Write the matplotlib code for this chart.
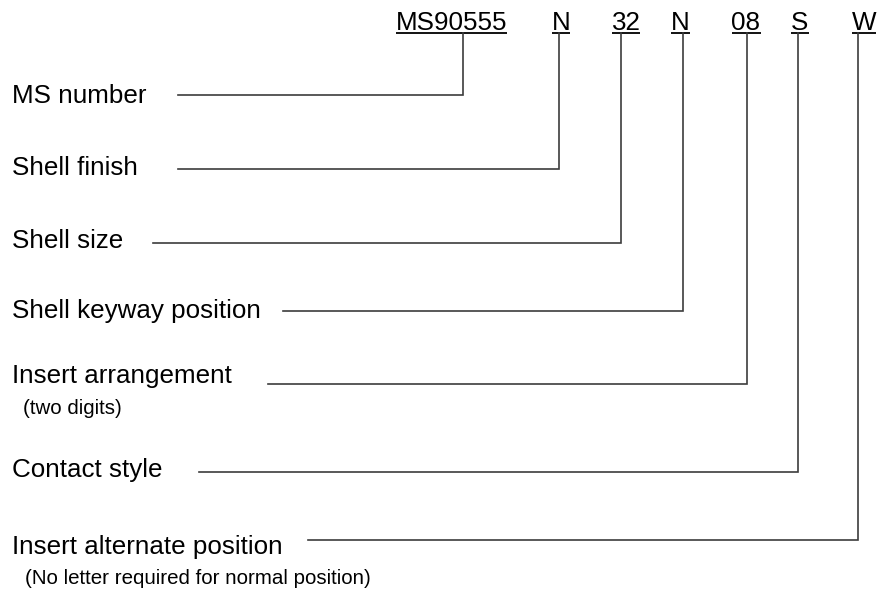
import matplotlib
matplotlib.use('Agg')
import matplotlib.pyplot as plt

plt.rcParams['font.family'] = ['Liberation Sans', 'DejaVu Sans']

# part number codes along the top
codes = ['MS90555', 'N', '32', 'N', '08', 'S', 'W']
code_x = [451.5, 561, 626, 680.5, 746, 800, 864]   # text centres
lead_x = [463, 559, 621, 683, 747, 798, 858]       # where each leader drops down

# descriptions on the left
labels = ['MS number', 'Shell finish', 'Shell size', 'Shell keyway position',
          'Insert arrangement', 'Contact style', 'Insert alternate position']
label_y = [96, 168, 241, 311, 376, 470, 547]
line_y = [95, 169, 243, 311, 384, 472, 540]
line_start = [178, 178, 153, 283, 268, 199, 308]

notes = ['(two digits)', '(No letter required for normal position)']
note_x = [23, 25]
note_y = [409, 578]

big = 26 * 72 / 100    # 26 px text
small = 20.5 * 72 / 100

fig = plt.figure(figsize=(8.8, 5.9), dpi=100)
ax = fig.add_axes([0, 0, 1, 1])
ax.set_xlim(0, 880)
ax.set_ylim(590, 0)
ax.axis('off')

lc = '#3c3c3c'
lw = 1.2
underline_y = 33

fig.canvas.draw()
renderer = fig.canvas.get_renderer()
inv = ax.transData.inverted()

for c, cx in zip(codes, code_x):
    t = ax.text(cx, 30, c, ha='center', va='baseline', fontsize=big, color='black')
    bb = t.get_window_extent(renderer)
    (x0, _), (x1, _) = inv.transform([(bb.x0, 0), (bb.x1, 0)])
    ax.plot([x0, x1], [underline_y, underline_y], color='black', lw=1.3,
            solid_capstyle='butt')

for lab, ly, yy, xs, xv in zip(labels, label_y, line_y, line_start, lead_x):
    ax.text(12, ly, lab, ha='left', va='center', fontsize=big, color='black')
    ax.plot([xs, xv, xv], [yy, yy, underline_y], color=lc, lw=lw,
            solid_joinstyle='miter')

for n, nx, ny in zip(notes, note_x, note_y):
    ax.text(nx, ny, n, ha='left', va='center', fontsize=small, color='black')

fig.savefig('out.png', dpi=100)
